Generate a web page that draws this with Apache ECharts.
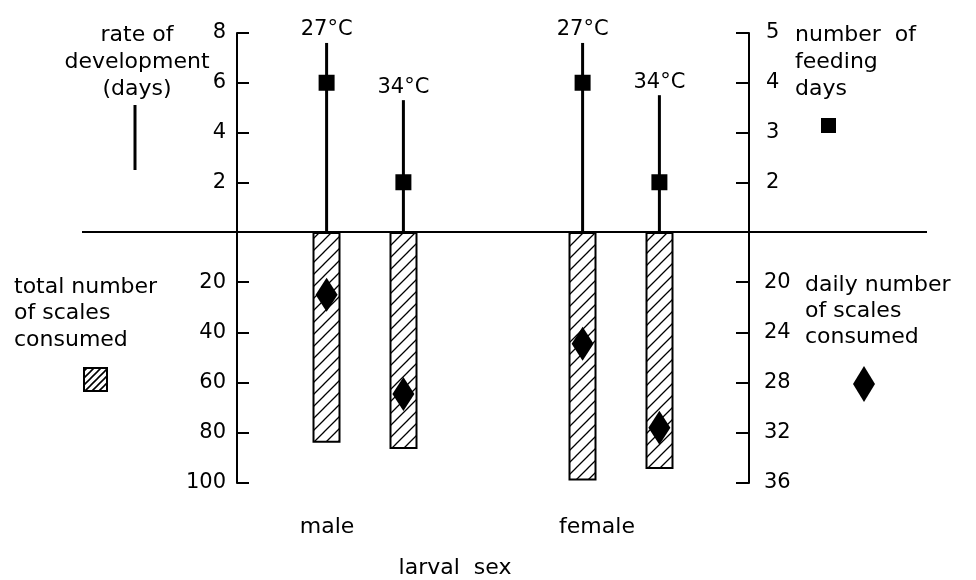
<!DOCTYPE html>
<html>
<head>
<meta charset="utf-8">
<script src="https://cdn.jsdelivr.net/npm/echarts@6/dist/echarts.min.js"></script>
<style>
    html, body { margin: 0; padding: 0; background: #fff; }
    #chart { width: 976px; height: 580px; }
</style>
</head>
<body>
<div id="chart"></div>
<script>
    // categories
    var sexes = ['male', 'female'];
    var temps = ['27°C', '34°C'];

    // rate of development (days) - vertical lines, left top axis
    var devDays27 = [7.6, 7.6];
    var devDays34 = [5.3, 5.5];
    // number of feeding days - squares, right top axis
    var feedDays27 = [4, 4];
    var feedDays34 = [2, 2];
    // total number of scales consumed - hatched bars, left bottom axis
    var totalScales27 = [84, 99];
    var totalScales34 = [86.5, 94.4];
    // daily number of scales consumed - diamonds, right bottom axis
    var dailyScales27 = [21, 24.9];
    var dailyScales34 = [28.9, 31.6];

    var FONT = '"DejaVu Sans", sans-serif';
    var OFF = [-0.15, 0.15]; // position of 27 / 34 inside a category band

    // hatch pattern  ////
    function makeHatch(s, w) {
        var c = document.createElement('canvas');
        c.width = s;
        c.height = s;
        var g = c.getContext('2d');
        g.fillStyle = '#fff';
        g.fillRect(0, 0, s, s);
        g.strokeStyle = '#000';
        g.lineWidth = w;
        g.beginPath();
        g.moveTo(-1, s + 1); g.lineTo(s + 1, -1);
        g.moveTo(-1, 1); g.lineTo(1, -1);
        g.moveTo(s - 1, s + 1); g.lineTo(s + 1, s - 1);
        g.stroke();
        return c;
    }
    var hatch = makeHatch(12, 1.3);
    var hatchKey = makeHatch(7, 1.6);

    function toData(arr) {
        return arr.map(function (v, i) { return [i, v]; });
    }

    function stemRender(k, label) {
        return function (params, api) {
            var dx = api.size([1, 0])[0] * k;
            var top = api.coord([api.value(0), api.value(1)]);
            var base = api.coord([api.value(0), 0]);
            return {
                type: 'group',
                children: [{
                    type: 'line',
                    shape: {x1: base[0] + dx, y1: base[1], x2: top[0] + dx, y2: top[1]},
                    style: {stroke: '#000', lineWidth: 3}
                }, {
                    type: 'text',
                    x: top[0] + dx,
                    y: top[1] - 13,
                    style: {
                        text: label, fill: '#000', font: '21px ' + FONT,
                        align: 'center', verticalAlign: 'middle',
                        textAlign: 'center', textVerticalAlign: 'middle'
                    }
                }]
            };
        };
    }

    function squareRender(k) {
        return function (params, api) {
            var dx = api.size([1, 0])[0] * k;
            var p = api.coord([api.value(0), api.value(1)]);
            return {
                type: 'rect',
                shape: {x: p[0] + dx - 8, y: p[1] - 8, width: 16, height: 16},
                style: {fill: '#000'}
            };
        };
    }

    function diamondRender(k) {
        return function (params, api) {
            var dx = api.size([1, 0])[0] * k;
            var p = api.coord([api.value(0), api.value(1)]);
            var x = p[0] + dx, y = p[1];
            return {
                type: 'polygon',
                shape: {points: [[x, y - 17], [x + 11, y], [x, y + 17], [x - 11, y]]},
                style: {fill: '#000'}
            };
        };
    }

    var axisLine = {show: true, lineStyle: {color: '#000', width: 2}};
    var axisLabel = {color: '#000', fontSize: 21, fontFamily: FONT, showMinLabel: false};

    var chart = echarts.init(document.getElementById('chart'));
    var option = {
        animation: false,
        backgroundColor: '#fff',
        grid: [
            {left: 237, width: 512, top: 33, height: 199},
            {left: 237, width: 512, top: 232, height: 251}
        ],
        xAxis: [
            {type: 'category', gridIndex: 0, data: sexes, show: false},
            {type: 'category', gridIndex: 1, data: sexes, show: false}
        ],
        yAxis: [
            {
                type: 'value', gridIndex: 0, position: 'left', min: 0, max: 8, interval: 2,
                axisLine: axisLine, axisTick: {show: true, inside: true, length: 12, lineStyle: {color: '#000', width: 2}},
                axisLabel: Object.assign({margin: 11}, axisLabel), splitLine: {show: false}
            },
            {
                type: 'value', gridIndex: 0, position: 'right', min: 1, max: 5, interval: 1,
                axisLine: axisLine, axisTick: {show: true, inside: true, length: 13, lineStyle: {color: '#000', width: 2}},
                axisLabel: Object.assign({margin: 17}, axisLabel), splitLine: {show: false}
            },
            {
                type: 'value', gridIndex: 1, position: 'left', inverse: true, min: 0, max: 100, interval: 20,
                axisLine: axisLine, axisTick: {show: true, inside: true, length: 12, lineStyle: {color: '#000', width: 2}},
                axisLabel: Object.assign({margin: 11}, axisLabel), splitLine: {show: false}
            },
            {
                type: 'value', gridIndex: 1, position: 'right', inverse: true, min: 16, max: 36, interval: 4,
                axisLine: axisLine, axisTick: {show: true, inside: true, length: 13, lineStyle: {color: '#000', width: 2}},
                axisLabel: Object.assign({margin: 15}, axisLabel), splitLine: {show: false}
            }
        ],
        series: [
            {
                name: 'total ' + temps[0], type: 'bar', xAxisIndex: 1, yAxisIndex: 2,
                data: totalScales27, barWidth: 28, barGap: '175%',
                itemStyle: {color: {image: hatch, repeat: 'repeat'}, borderColor: '#000', borderWidth: 2}
            },
            {
                name: 'total ' + temps[1], type: 'bar', xAxisIndex: 1, yAxisIndex: 2,
                data: totalScales34, barWidth: 28, barGap: '175%',
                itemStyle: {color: {image: hatch, repeat: 'repeat'}, borderColor: '#000', borderWidth: 2}
            },
            {
                name: 'dev ' + temps[0], type: 'custom', xAxisIndex: 0, yAxisIndex: 0,
                renderItem: stemRender(OFF[0], temps[0]), data: toData(devDays27), encode: {x: 0, y: 1}, z: 3
            },
            {
                name: 'dev ' + temps[1], type: 'custom', xAxisIndex: 0, yAxisIndex: 0,
                renderItem: stemRender(OFF[1], temps[1]), data: toData(devDays34), encode: {x: 0, y: 1}, z: 3
            },
            {
                name: 'feed ' + temps[0], type: 'custom', xAxisIndex: 0, yAxisIndex: 1,
                renderItem: squareRender(OFF[0]), data: toData(feedDays27), encode: {x: 0, y: 1}, z: 4
            },
            {
                name: 'feed ' + temps[1], type: 'custom', xAxisIndex: 0, yAxisIndex: 1,
                renderItem: squareRender(OFF[1]), data: toData(feedDays34), encode: {x: 0, y: 1}, z: 4
            },
            {
                name: 'daily ' + temps[0], type: 'custom', xAxisIndex: 1, yAxisIndex: 3,
                renderItem: diamondRender(OFF[0]), data: toData(dailyScales27), encode: {x: 0, y: 1}, z: 4
            },
            {
                name: 'daily ' + temps[1], type: 'custom', xAxisIndex: 1, yAxisIndex: 3,
                renderItem: diamondRender(OFF[1]), data: toData(dailyScales34), encode: {x: 0, y: 1}, z: 4
            }
        ],
        graphic: [
            // baseline
            {type: 'line', shape: {x1: 82, y1: 232, x2: 927, y2: 232}, style: {stroke: '#000', lineWidth: 2}, z: 10},
            // left top key
            {type: 'text', x: 137, y: 22, style: {text: 'rate of\ndevelopment\n(days)', font: '22px ' + FONT, fill: '#000',
                align: 'center', textAlign: 'center', lineHeight: 27}},
            {type: 'line', shape: {x1: 135, y1: 105, x2: 135, y2: 170}, style: {stroke: '#000', lineWidth: 3}},
            // right top key
            {type: 'text', x: 795, y: 22, style: {text: 'number  of\nfeeding\ndays', font: '22px ' + FONT, fill: '#000',
                align: 'left', textAlign: 'left', lineHeight: 27}},
            {type: 'rect', shape: {x: 821, y: 118, width: 15, height: 15}, style: {fill: '#000'}},
            // left bottom key
            {type: 'text', x: 14, y: 274, style: {text: 'total number\nof scales\nconsumed', font: '22px ' + FONT, fill: '#000',
                align: 'left', textAlign: 'left', lineHeight: 26.5}},
            {type: 'rect', shape: {x: 84, y: 368, width: 23, height: 23},
                style: {fill: {image: hatchKey, repeat: 'repeat'}, stroke: '#000', lineWidth: 2}},
            // right bottom key
            {type: 'text', x: 805, y: 272, style: {text: 'daily number\nof scales\nconsumed', font: '22px ' + FONT, fill: '#000',
                align: 'left', textAlign: 'left', lineHeight: 26}},
            {type: 'polygon', shape: {points: [[864, 366], [875, 384], [864, 402], [853, 384]]}, style: {fill: '#000'}},
            // category labels and axis name
            {type: 'text', x: 327, y: 516, style: {text: sexes[0], font: '22px ' + FONT, fill: '#000', align: 'center', textAlign: 'center'}},
            {type: 'text', x: 597, y: 516, style: {text: sexes[1], font: '22px ' + FONT, fill: '#000', align: 'center', textAlign: 'center'}},
            {type: 'text', x: 455, y: 557, style: {text: 'larval  sex', font: '22px ' + FONT, fill: '#000', align: 'center', textAlign: 'center'}}
        ]
    };
    chart.setOption(option);
    window.addEventListener('resize', function () {
        chart.resize();
    });
</script>
</body>
</html>
